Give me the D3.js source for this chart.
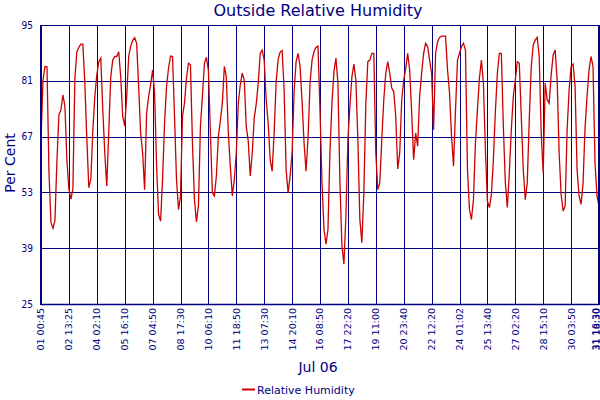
<!DOCTYPE html>
<html>
<head>
<meta charset="utf-8">
<script src="https://cdn.jsdelivr.net/npm/d3@7"></script>
<style>
  html, body { margin: 0; padding: 0; background: #fff; }
  svg { display: block; }
</style>
</head>
<body>
<svg id="chart" width="600" height="400"></svg>
<script>
// ---- data ----
const title = "Outside Relative Humidity";
const yLabel = "Per Cent";
const xLabel = "Jul 06";
const seriesName = "Relative Humidity";

const yTicks = [25, 39, 53, 67, 81, 95];

const xTickLabels = [
  "01 00:45", "02 13:25", "04 02:10", "05 16:10", "07 04:50", "08 17:30",
  "10 06:10", "11 18:50", "13 07:30", "14 20:10", "16 08:50", "17 22:20",
  "19 11:00", "20 23:40", "22 12:20", "24 01:02", "25 13:40", "27 02:20",
  "28 15:10", "30 03:50", "31 16:30"
];
const lastLabel = "31 18:30";
const pointsPerTick = 14;

const humidity = [
  66, 81.2, 84.6, 84.5, 58, 45.4, 44, 46, 61, 72.5, 73.7, 77.5, 74.6, 61,
  53.8, 51.3, 53.8, 81.7, 88.3, 89.4, 90.2, 90.2, 80.4, 66.3, 54.2, 56.3, 68.3, 77.1,
  82.5, 85.8, 86.7, 73.7, 62.9, 54.6, 68.3, 82, 86.2, 87.1, 87.1, 88.3, 82, 72.1,
  69.6, 77.1, 87.1, 89.7, 91.1, 91.8, 90.4, 79.6, 67.9, 62.9, 53.7, 72.9, 77.1, 80,
  83.7, 78, 59.6, 47.5, 45.8, 56.2, 70.4, 79.6, 84.2, 87.2, 87.1, 72.1, 56.2, 48.7,
  52, 72.1, 75.4, 81.7, 85.4, 85, 65.4, 51.2, 45.6, 49.6, 69.6, 77.1, 85.4, 86.9,
  83.7, 67.9, 52.9, 52.1, 57.1, 67.1, 71, 75.4, 84.6, 82, 67.9, 59.6, 52.1, 56.2,
  62.9, 75.4, 80, 82.9, 81.2, 69.6, 65.8, 57.1, 62.9, 71.7, 75.2, 80.4, 87.9, 88.7,
  86.2, 76.2, 70.4, 61.2, 58.3, 67.9, 80.8, 86.4, 88.2, 88.6, 78.7, 58.7, 52.9, 57.1,
  62.9, 78.3, 85.8, 87.9, 84.6, 75.8, 65.4, 58.3, 66.7, 80.4, 86.2, 88.3, 89.4, 89.7,
  73.7, 55.4, 43.7, 40, 43.7, 63.3, 75.4, 83.3, 86.7, 80.4, 55.4, 39.6, 35, 47.1,
  66.2, 74.6, 82, 85.2, 81.2, 66.2, 46.2, 40.4, 52.9, 75.4, 85.8, 86.2, 87.9, 87.9,
  62.9, 53.7, 55.4, 66.2, 76.2, 82.9, 85.8, 82.9, 79.2, 78.3, 72.1, 58.9, 62.9, 76.2,
  81.2, 84, 87.9, 83.7, 72.9, 61.2, 67.9, 64.6, 77.1, 82.9, 87.9, 90.4, 89.6, 86.2,
  82.9, 68.7, 87.9, 90.8, 91.9, 92.2, 92.2, 92.2, 83.7, 77.9, 67.1, 59.6, 73.7, 86.2,
  87.9, 89.6, 90.4, 88.7, 58.7, 48.7, 46.2, 51.2, 65.4, 73.7, 81.7, 86.2, 80.4, 63.7,
  50.8, 49.2, 52.5, 61.2, 73.3, 82.9, 87.9, 87.9, 69.6, 55.4, 49.2, 57.9, 68.7, 77.1,
  81.2, 85.8, 85.4, 72.1, 58.7, 51.2, 55.4, 71.2, 84.6, 90, 91.2, 91.9, 87.1, 67.9,
  57.9, 80.4, 76.2, 75.4, 82.5, 87.5, 88.7, 81.2, 62.9, 52.5, 48.3, 49.6, 68.7, 78.7,
  84.6, 85.2, 79.6, 58.7, 52.1, 50, 55.4, 69.2, 77.1, 83.7, 87.1, 84.6, 60.4, 52.1,
  49.6
];

// ---- layout ----
const navy = "#000080";
const red = "#cc0000";
const plot = { left: 41, right: 599, top: 25, bottom: 304 };

const svg = d3.select("#chart");

const x = d3.scaleLinear()
  .domain([0, humidity.length - 1])
  .range([plot.left, plot.right]);
const y = d3.scaleLinear()
  .domain([d3.min(yTicks), d3.max(yTicks)])
  .range([plot.bottom, plot.top]);

const tickIdx = xTickLabels.map((d, i) => i * pointsPerTick);

// grid
const grid = svg.append("g").attr("stroke", navy).attr("stroke-width", 1).attr("shape-rendering", "crispEdges");
grid.selectAll("line.h").data(yTicks).join("line")
  .attr("class", "h")
  .attr("x1", plot.left).attr("x2", plot.right)
  .attr("y1", d => Math.round(y(d)) + 0.5).attr("y2", d => Math.round(y(d)) + 0.5);
grid.selectAll("line.v").data(tickIdx).join("line")
  .attr("class", "v")
  .attr("x1", d => Math.round(x(d)) + 0.5).attr("x2", d => Math.round(x(d)) + 0.5)
  .attr("y1", plot.top).attr("y2", plot.bottom);

// data line
const line = d3.line()
  .x((d, i) => x(i))
  .y(d => y(d));
svg.append("path")
  .datum(humidity)
  .attr("fill", "none")
  .attr("stroke", red)
  .attr("stroke-width", 1.3)
  .attr("stroke-linejoin", "miter")
  .attr("d", line);

// frame: thick left and right edges
svg.append("line")
  .attr("x1", plot.left).attr("x2", plot.left)
  .attr("y1", plot.top).attr("y2", plot.bottom + 1)
  .attr("stroke", navy).attr("stroke-width", 2);
svg.append("line")
  .attr("x1", plot.right).attr("x2", plot.right)
  .attr("y1", plot.top).attr("y2", plot.bottom + 1)
  .attr("stroke", navy).attr("stroke-width", 2);
svg.append("line")
  .attr("x1", plot.left).attr("x2", plot.right)
  .attr("y1", plot.bottom + 0.5).attr("y2", plot.bottom + 0.5)
  .attr("stroke", navy).attr("stroke-width", 1.5);

// y tick labels
svg.append("g").selectAll("text").data(yTicks).join("text")
  .attr("x", 33)
  .attr("y", d => y(d))
  .attr("dy", "0.36em")
  .attr("text-anchor", "end")
  .attr("fill", navy)
  .attr("font-family", "'DejaVu Sans Condensed', 'DejaVu Sans', sans-serif")
  .attr("font-size", 10)
  .text(d => d);

// x tick labels (rotated)
const xl = svg.append("g")
  .attr("fill", navy)
  .attr("font-family", "'DejaVu Sans', sans-serif")
  .attr("font-size", 9.5);
xl.selectAll("text").data(xTickLabels).join("text")
  .attr("transform", (d, i) => `translate(${x(tickIdx[i]) - (i === xTickLabels.length - 1 ? 3 : 0)},308) rotate(-90)`)
  .attr("dy", "0.36em")
  .attr("text-anchor", "end")
  .text(d => d);
xl.append("text")
  .attr("transform", `translate(${x(humidity.length - 1) - 2},308) rotate(-90)`)
  .attr("dy", "0.36em")
  .attr("text-anchor", "end")
  .text(lastLabel);

// title
svg.append("text")
  .attr("x", 318).attr("y", 16)
  .attr("text-anchor", "middle")
  .attr("fill", navy)
  .attr("font-family", "'DejaVu Sans', sans-serif")
  .attr("font-size", 16)
  .text(title);

// y axis label
svg.append("text")
  .attr("transform", "translate(15,163) rotate(-90)")
  .attr("text-anchor", "middle")
  .attr("fill", navy)
  .attr("font-family", "'DejaVu Sans', sans-serif")
  .attr("font-size", 14)
  .text(yLabel);

// x axis label
svg.append("text")
  .attr("x", 318).attr("y", 372)
  .attr("text-anchor", "middle")
  .attr("fill", navy)
  .attr("font-family", "'DejaVu Sans', sans-serif")
  .attr("font-size", 14)
  .text(xLabel);

// legend
const lg = svg.append("g");
lg.append("line")
  .attr("x1", 242).attr("x2", 255)
  .attr("y1", 389.5).attr("y2", 389.5)
  .attr("stroke", red).attr("stroke-width", 2);
lg.append("text")
  .attr("x", 257).attr("y", 394)
  .attr("fill", navy)
  .attr("font-family", "'DejaVu Sans', sans-serif")
  .attr("font-size", 11)
  .text(seriesName);
</script>
</body>
</html>
